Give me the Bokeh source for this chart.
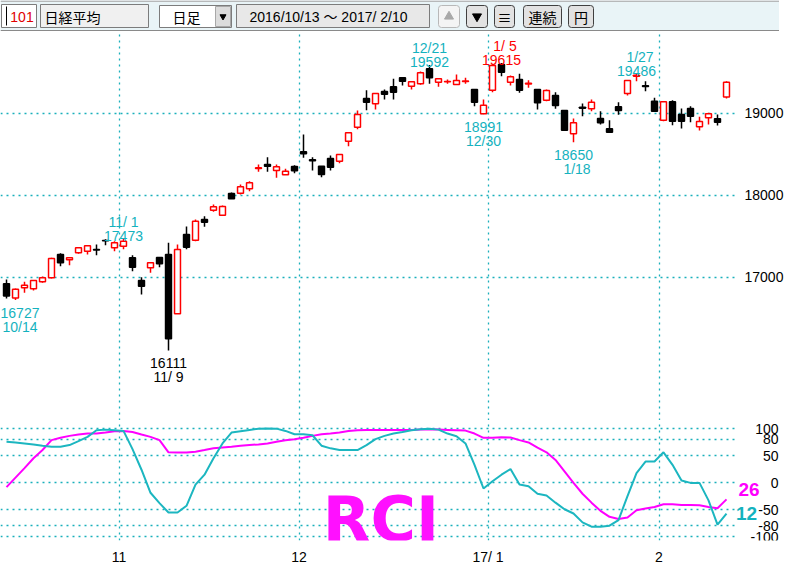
from datetime import date
from bokeh.plotting import figure
from bokeh.layouts import column, row
from bokeh.models import Range1d, FixedTicker, ColumnDataSource, Label, Grid
from bokeh.core.properties import value
from bokeh.embed import file_html
from bokeh.resources import INLINE

# ---------------- data ----------------
code = "101"
name = "日経平均"
period = "日足"

dates = [
    "2016-10-13", "2016-10-14", "2016-10-17", "2016-10-18", "2016-10-19", "2016-10-20", "2016-10-21",
    "2016-10-24", "2016-10-25", "2016-10-26", "2016-10-27", "2016-10-28", "2016-10-31",
    "2016-11-01", "2016-11-02", "2016-11-04", "2016-11-07", "2016-11-08", "2016-11-09", "2016-11-10",
    "2016-11-11", "2016-11-14", "2016-11-15", "2016-11-16", "2016-11-17", "2016-11-18", "2016-11-21",
    "2016-11-22", "2016-11-24", "2016-11-25", "2016-11-28", "2016-11-29", "2016-11-30",
    "2016-12-01", "2016-12-02", "2016-12-05", "2016-12-06", "2016-12-07", "2016-12-08", "2016-12-09",
    "2016-12-12", "2016-12-13", "2016-12-14", "2016-12-15", "2016-12-16", "2016-12-19", "2016-12-20",
    "2016-12-21", "2016-12-22", "2016-12-26", "2016-12-27", "2016-12-28", "2016-12-29", "2016-12-30",
    "2017-01-04", "2017-01-05", "2017-01-06", "2017-01-10", "2017-01-11", "2017-01-12", "2017-01-13",
    "2017-01-16", "2017-01-17", "2017-01-18", "2017-01-19", "2017-01-20", "2017-01-23", "2017-01-24",
    "2017-01-25", "2017-01-26", "2017-01-27", "2017-01-30", "2017-01-31",
    "2017-02-01", "2017-02-02", "2017-02-03", "2017-02-06", "2017-02-07", "2017-02-08", "2017-02-09",
    "2017-02-10",
]

opens = [16923, 16750, 16874, 16862, 16947, 16996, 17280, 17216, 17301, 17321,
         17340, 17451, 17362, 17382, 17240, 16963, 17118, 17244, 17280, 16557,
         17524, 17455, 17707, 17821, 17760, 18024, 18028, 18081, 18330, 18378,
         18305, 18252, 18354, 18533, 18435, 18358, 18451, 18419, 18663, 18833,
         19183, 19118, 19268, 19326, 19435, 19333, 19362, 19545, 19382, 19386,
         19354, 19390, 19293, 18996, 19284, 19597, 19382, 19415, 19360, 19293,
         19163, 19220, 19037, 18752, 19075, 19057, 18939, 18813, 19082, 19244,
         19455, 19338, 19150, 18918, 19142, 18988, 19061, 18837, 18947, 18935,
         19200]
highs = [16976, 16866, 16947, 16963, 17012, 17240, 17296, 17240, 17370, 17394,
         17402, 17467, 17443, 17473, 17272, 17004, 17179, 17244, 17423, 17402,
         17622, 17707, 17748, 17890, 17878, 18037, 18134, 18174, 18378, 18467,
         18378, 18325, 18370, 18744, 18467, 18358, 18488, 18500, 18764, 19037,
         19284, 19244, 19293, 19423, 19435, 19387, 19512, 19592, 19423, 19415,
         19476, 19435, 19293, 19171, 19594, 19615, 19463, 19484, 19406, 19293,
         19293, 19260, 19037, 18939, 19122, 19171, 19028, 18918, 19138, 19402,
         19486, 19394, 19191, 19142, 19162, 19061, 19089, 18959, 19008, 18988,
         19394]
lows = [16744, 16727, 16813, 16841, 16935, 16988, 17138, 17150, 17289, 17280,
        17272, 17394, 17321, 17345, 17077, 16793, 17057, 17126, 16111, 16557,
        17345, 17443, 17618, 17801, 17760, 17959, 18012, 18052, 18289, 18289,
        18216, 18252, 18272, 18460, 18305, 18223, 18305, 18394, 18602, 18809,
        19040, 19049, 19171, 19171, 19341, 19293, 19350, 19362, 19326, 19362,
        19354, 19362, 19089, 18991, 19260, 19455, 19341, 19252, 19313, 19049,
        19150, 19057, 18796, 18650, 18967, 19028, 18866, 18772, 18984, 19220,
        19394, 19272, 19028, 18906, 18857, 18817, 18894, 18793, 18866, 18854,
        19184]
closes = [16774, 16856, 16906, 16963, 16996, 17232, 17179, 17240, 17362, 17387,
          17336, 17447, 17423, 17443, 17126, 16894, 17179, 17167, 16252, 17341,
          17370, 17687, 17675, 17862, 17866, 17959, 18106, 18154, 18338, 18358,
          18350, 18297, 18301, 18508, 18423, 18256, 18346, 18500, 18764, 18988,
          19138, 19244, 19235, 19260, 19394, 19387, 19496, 19435, 19423, 19390,
          19402, 19396, 19138, 19101, 19585, 19504, 19447, 19285, 19370, 19130,
          19280, 19098, 18796, 18886, 19065, 19138, 18886, 18772, 19037, 19402,
          19467, 19330, 19028, 19142, 18906, 18906, 18967, 18902, 18996, 18894,
          19382]

rci12 = [75.6, 74.3, 72.5, 70.7, 68.3, 66.4, 66.4, 69.5, 76.8, 84.7,
         96.9, 98.1, 96.9, 95.7, 62.0, 23.8, -18.9, -38.0, -55.5, -55.5,
         -43.0, -3.7, 14.6, 45.0, 72.5, 92.6, 95.1, 97.5, 99.9, 100.0,
         99.9, 95.7, 89.6, 89.6, 87.7, 68.3, 63.4, 60.3, 60.3, 60.3,
         69.5, 80.4, 86.5, 90.8, 93.8, 96.9, 98.7, 99.9, 98.1, 90.8,
         85.9, 72.5, 32.9, -11.0, 2.4, 14.6, 25.0, -3.7, -6.7, -20.7,
         -23.8, -37.2, -49.4, -57.3, -73.7, -81.7, -81.7, -79.8, -69.5, -25.0,
         17.7, 39.0, 39.0, 56.1, 32.9, 3.7, -0.6, -0.6, -32.9, -78.0,
         -57.3]
rci26 = [-8.5, 9.1, 26.8, 45.0, 60.3, 78.6, 82.9, 86.5, 89.0, 90.8,
         90.8, 92.6, 95.1, 95.7, 93.8, 89.0, 84.7, 78.6, 56.1, 55.5,
         55.5, 57.3, 60.3, 63.4, 65.2, 66.4, 68.3, 69.5, 70.7, 72.5,
         75.6, 78.6, 80.4, 82.9, 86.5, 89.6, 90.8, 92.6, 95.7, 96.9,
         97.5, 97.5, 97.5, 97.5, 97.5, 97.5, 98.1, 98.7, 98.1, 97.5,
         96.9, 96.3, 90.8, 82.9, 82.9, 84.1, 83.5, 78.6, 74.3, 64.6,
         56.1, 42.0, 20.7, -0.6, -20.7, -37.2, -52.4, -63.4, -67.6, -64.6,
         -51.2, -48.1, -45.1, -40.2, -40.2, -41.4, -41.4, -42.0, -45.1, -47.5,
         -31.1]
rci_names = ["12", "26"]

price_ticks = [17000, 18000, 19000]
rci_ticks = [-100, -80, -50, 0, 50, 80, 100]
extremes = [(1, "low"), (13, "high"), (18, "low"), (47, "high"),
            (53, "low"), (55, "high"), (63, "low"), (70, "high")]

# ---------------- styles ----------------
NUM = "Liberation Sans"
NUMJP = "Liberation Sans, Noto Sans CJK JP, sans-serif"
JP = "Noto Sans CJK JP"
CYAN = "#14b2be"
GRID = "#1ab0bb"
MAG = "#ff00ff"
RED = "#ff0000"
TBBG = "#e9f4f7"
FS = "14px"

ds = [date.fromisoformat(s) for s in dates]
n = len(ds)
idx = list(range(n))
bounds = [i - 0.5 for i in range(1, n) if ds[i].month != ds[i - 1].month]
month_labels = {}
for i in range(1, n):
    if ds[i].month != ds[i - 1].month:
        d = ds[i]
        month_labels[i - 0.5] = f"{d.year % 100}/{d.month:>2}" if d.month == 1 else str(d.month)

# ---------------- toolbar ----------------
tb = figure(frame_width=779, frame_height=31, x_range=Range1d(0, 779), y_range=Range1d(31, 0),
            toolbar_location=None, output_backend="svg", x_axis_location=None,
            y_axis_location=None, min_border=0, outline_line_color=None,
            background_fill_color=TBBG, border_fill_color=TBBG)
tb.grid.visible = False
tb.quad(left=[0, 0], right=[779, 779], top=[0, 29.5], bottom=[1.3, 31],
        fill_color=["#a4a4a4", "#8a8a8a"], line_color=None)
tb.quad(left=[1, 40, 159, 236], right=[36, 148, 231, 429], top=[4, 4, 5, 4], bottom=[27, 27, 27, 27],
        fill_color=["white", "#f0f0f0", "white", "#e8e8e8"], line_color="#7c7c7c", line_width=1)
tb.quad(left=[215], right=[230], top=[6], bottom=[26], fill_color="#dcdcdc", line_color="#a8a8a8")
tb.quad(left=[438, 466, 494, 523, 568], right=[459, 487, 514, 561, 593],
        top=[5, 5, 5, 5, 5], bottom=[27, 27, 27, 27, 27],
        fill_color=["#f4f4f4", "#e2e2e2", "#e2e2e2", "#e2e2e2", "#e2e2e2"],
        line_color=["#b8b8b8", "#404040", "#404040", "#404040", "#404040"], line_width=1,
        border_radius=3)
tb.segment(x0=[6], y0=[6], x1=[6], y1=[25], line_color="black", line_width=1)
tb.text(x=[21.5], y=[16], text=[code], text_color="#e00000", text_align="center",
        text_baseline="middle", text_font=value(NUM), text_font_size=FS)
tb.text(x=[44], y=[16], text=[name], text_color="black", text_align="left",
        text_baseline="middle", text_font=value(JP), text_font_size="14px")
tb.text(x=[186], y=[16], text=[period], text_color="black", text_align="center",
        text_baseline="middle", text_font=value(JP), text_font_size="14px")
d0, d1 = ds[0], ds[-1]
range_txt = f"{d0.year}/{d0.month}/{d0.day} ～ {d1.year}/{d1.month:>2}/{d1.day}"
tb.text(x=[249], y=[16], text=[range_txt], text_color="black", text_align="left",
        text_baseline="middle", text_font=value(NUMJP), text_font_size=FS)
tb.text(x=[504, 542, 580.5], y=[16, 16, 16], text=["≡", "連続", "円"], text_color="black",
        text_align="center", text_baseline="middle", text_font=value(JP), text_font_size="14px")
tb.scatter(x=[448.5], y=[16], marker="triangle", size=9, color="#a8a8a8")
tb.scatter(x=[476.5, 222.5], y=[16, 16], marker="inverted_triangle", size=[9, 6], color="black")

# ---------------- price panel ----------------
FW = 735
xr = Range1d(-0.667, 81.0)
pp = figure(frame_width=FW, frame_height=389, x_range=xr, y_range=Range1d(15256, 20000),
            toolbar_location=None, output_backend="svg", x_axis_location=None,
            y_axis_location="right", min_border_left=0, min_border_right=44,
            min_border_top=0, min_border_bottom=0, outline_line_color=None,
            background_fill_color="white", border_fill_color="white")
pp.grid.visible = False
for dim, ticks in [(0, bounds), (1, price_ticks)]:
    pp.add_layout(Grid(dimension=dim, ticker=FixedTicker(ticks=ticks), grid_line_color=GRID,
                       grid_line_dash="2 4", grid_line_width=1.3))
ax = pp.yaxis[0]
ax.ticker = FixedTicker(ticks=price_ticks)
ax.axis_line_color = None
ax.major_tick_line_color = None
ax.minor_tick_line_color = None
ax.major_label_standoff = 3
ax.major_label_text_font = NUM
ax.major_label_text_font_size = FS
ax.major_label_text_color = "black"

up = [c >= o for o, c in zip(opens, closes)]
src = ColumnDataSource(dict(
    x=idx, h=highs, l=lows,
    top=[max(o, c) for o, c in zip(opens, closes)],
    bottom=[min(o, c) for o, c in zip(opens, closes)],
    col=[RED if u else "black" for u in up],
    fill=["white" if u else "black" for u in up],
))
pp.segment(x0="x", y0="h", x1="x", y1="l", line_color="col", line_width=1.5, source=src)
pp.vbar(x="x", width=0.66, top="top", bottom="bottom", fill_color="fill", line_color="col",
        line_width=1.5, source=src)

px_per_bar = FW / (xr.end - xr.start)
hmax, lmin = max(highs), min(lows)
L = dict(x=[], y=[], t=[], c=[], yo=[], xo=[])
for i, kind in extremes:
    v = highs[i] if kind == "high" else lows[i]
    if kind == "high" and v == hmax:
        col = RED
    elif kind == "low" and v == lmin:
        col = "black"
    else:
        col = CYAN
    d = ds[i]
    dt = f"{d.month}/{d.day:>2}"
    shift = 3.5 if d.month < 10 else 0
    xpix = (i - xr.start) * px_per_bar
    clamp = max(0.0, 19.5 - xpix)
    rows_ = [(f"{v:.0f}", -3, clamp), (dt, -17, shift + clamp)] if kind == "high" else \
            [(f"{v:.0f}", 13, clamp), (dt, 27, shift + clamp)]
    for t, yo, xo in rows_:
        L["x"].append(i); L["y"].append(v); L["t"].append(t)
        L["c"].append(col); L["yo"].append(yo); L["xo"].append(xo)
pp.text(x="x", y="y", text="t", text_color="c", y_offset="yo", x_offset="xo",
        source=ColumnDataSource(L), text_align="center", text_baseline="alphabetic",
        text_font=value(NUM), text_font_size=FS)

# ---------------- RCI panel ----------------
yr = Range1d(-107.3, 115)
RH = 120
rp = figure(frame_width=FW, frame_height=RH, x_range=xr, y_range=yr,
            toolbar_location=None, output_backend="svg", x_axis_location="below",
            y_axis_location=None, min_border_left=0, min_border_right=0,
            min_border_top=0, min_border_bottom=19, outline_line_color=None,
            background_fill_color="white", border_fill_color="white")
rp.grid.visible = False
for dim, ticks in [(0, bounds), (1, rci_ticks)]:
    rp.add_layout(Grid(dimension=dim, ticker=FixedTicker(ticks=ticks), grid_line_color=GRID,
                       grid_line_dash="2 4", grid_line_width=1.3))
xa = rp.xaxis[0]
xa.ticker = FixedTicker(ticks=bounds)
xa.major_label_overrides = month_labels
xa.axis_line_color = None
xa.major_tick_line_color = None
xa.minor_tick_line_color = None
xa.major_label_standoff = 2
xa.major_label_text_font = NUM
xa.major_label_text_font_size = FS
xa.major_label_text_color = "black"

rp.line(idx, rci26, line_color=MAG, line_width=2)
rp.line(idx, rci12, line_color="#1cb6c0", line_width=2)

rp.add_layout(Label(x=41.6, y=-67.6, text="RCI", text_color="#ff10ff", text_align="center",
                    text_baseline="alphabetic", text_font="DejaVu Sans", text_font_style="bold",
                    text_font_size="62px"))

# right-hand strip: RCI scale labels and series names, placed with the shared RCI y scale
RW = 779 - FW
rl = figure(frame_width=RW, frame_height=RH, x_range=Range1d(0, RW), y_range=yr,
            toolbar_location=None, output_backend="svg", x_axis_location=None,
            y_axis_location=None, min_border_left=0, min_border_right=0,
            min_border_top=0, min_border_bottom=19, outline_line_color=None,
            background_fill_color="white", border_fill_color="white")
rl.grid.visible = False
rl.text(x=[RW - 1] * len(rci_ticks), y=rci_ticks, text=[str(t) for t in rci_ticks],
        text_color="black", text_align="right", text_baseline="middle",
        text_font=value(NUM), text_font_size=FS)
rl.text(x=[3, 0.5], y=[rci26[-1] + 18, rci12[-1]], text=[rci_names[1], rci_names[0]],
        text_color=[MAG, "#14b2be"], text_align="left", text_baseline="middle",
        text_font=value("Liberation Sans"), text_font_style="bold", text_font_size="19px")

layout = column(tb, pp, row(rp, rl))
open("out.html", "w").write(file_html(layout, INLINE))
